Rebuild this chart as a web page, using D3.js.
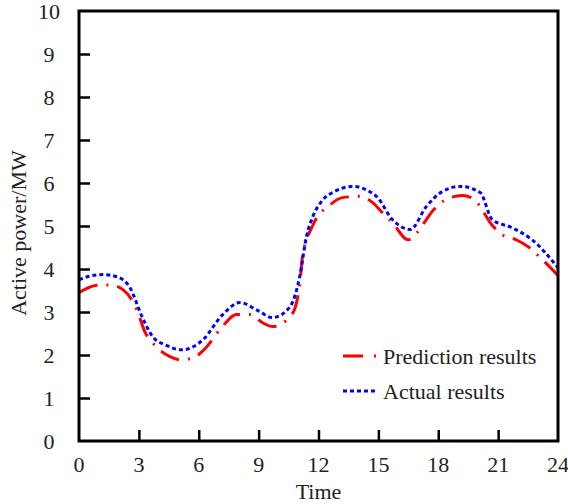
<!DOCTYPE html>
<html>
<head>
<meta charset="utf-8">
<script src="https://cdn.jsdelivr.net/npm/d3@7"></script>
<style>
    body { margin: 0; background: #fff; }
    svg text { font-family: "Liberation Serif", "Times New Roman", serif; fill: #222; }
</style>
</head>
<body>
<div id="chart"></div>
<script>
// values
const actualHours = [0, 0.5, 1.2, 2, 2.55, 3.16, 3.7, 4.4, 5.15, 6.2, 7.2, 8.07, 8.9, 9.7, 10.57, 11.07, 11.4, 11.7, 12.2, 12.8, 13.7, 14.9, 15.7, 16.6, 17.4, 18.2, 19.1, 20.1, 20.7, 21.7, 22.7, 24];
const actualValues = [3.75, 3.83, 3.87, 3.8, 3.57, 2.89, 2.42, 2.22, 2.12, 2.35, 2.94, 3.22, 3.05, 2.87, 3.12, 3.85, 4.76, 5.2, 5.6, 5.8, 5.92, 5.69, 5.15, 4.92, 5.45, 5.8, 5.92, 5.78, 5.15, 4.96, 4.68, 4.03];

const predHours = [0, 0.9, 1.55, 2.2, 2.9, 3.3, 3.7, 4.56, 5.06, 5.7, 6.3, 7.06, 7.9, 8.57, 9.2, 9.7, 10.57, 10.9, 11.07, 11.2, 11.7, 12.6, 13.2, 14.1, 14.7, 15.2, 15.7, 16.5, 17.3, 17.7, 18.4, 19.2, 19.8, 20.2, 20.6, 21.2, 21.9, 22.5, 23.1, 24];
const predValues = [3.45, 3.62, 3.63, 3.52, 3.05, 2.54, 2.28, 1.96, 1.89, 1.93, 2.14, 2.59, 2.94, 2.94, 2.75, 2.66, 2.89, 3.22, 3.68, 4.3, 5.0, 5.5, 5.66, 5.69, 5.55, 5.31, 5.08, 4.68, 5.08, 5.34, 5.62, 5.71, 5.62, 5.38, 5.08, 4.8, 4.68, 4.52, 4.27, 3.85];

const xTicks = [0, 3, 6, 9, 12, 15, 18, 21, 24];
const yTicks = [0, 1, 2, 3, 4, 5, 6, 7, 8, 9, 10];

const seriesNames = ['Prediction results', 'Actual results'];

const WIDTH = 568, HEIGHT = 504;
const _MARGIN = { top: 11, right: 10, bottom: 63, left: 79 };
const FONT = 22;

let svg = d3.select('#chart').append('svg')
    .attr('width', WIDTH)
    .attr('height', HEIGHT);

let plotW = WIDTH - _MARGIN.left - _MARGIN.right;
let plotH = HEIGHT - _MARGIN.top - _MARGIN.bottom;

let x = d3.scaleLinear().domain([0, 24]).range([0, plotW]);
let y = d3.scaleLinear().domain([0, 10]).range([plotH, 0]);

let g = svg.append('g')
    .attr('transform', 'translate(' + _MARGIN.left + ',' + _MARGIN.top + ')');

// curves
let line = d3.line()
    .x(d => x(d[0]))
    .y(d => y(d[1]))
    .curve(d3.curveMonotoneX);

g.append('path')
    .datum(d3.zip(predHours, predValues))
    .attr('fill', 'none')
    .attr('stroke', '#ff0000')
    .attr('stroke-width', 3)
    .attr('stroke-dasharray', '20,9,2,9')
    .attr('d', line);

g.append('path')
    .datum(d3.zip(actualHours, actualValues))
    .attr('fill', 'none')
    .attr('stroke', '#0000ff')
    .attr('stroke-width', 3)
    .attr('stroke-dasharray', '4,3')
    .attr('d', line);

// frame
g.append('rect')
    .attr('width', plotW)
    .attr('height', plotH)
    .attr('fill', 'none')
    .attr('stroke', '#000')
    .attr('stroke-width', 3);

// axes with inward ticks
let xAxis = d3.axisTop(x)
    .tickValues(xTicks.slice(1, -1))
    .tickSize(11)
    .tickFormat('');
g.append('g')
    .attr('transform', 'translate(0,' + plotH + ')')
    .call(xAxis)
    .call(s => s.select('.domain').remove())
    .selectAll('line').attr('stroke', '#000').attr('stroke-width', 2.5);

let yAxis = d3.axisRight(y)
    .tickValues(yTicks.slice(1, -1))
    .tickSize(11)
    .tickFormat('');
g.append('g')
    .call(yAxis)
    .call(s => s.select('.domain').remove())
    .selectAll('line').attr('stroke', '#000').attr('stroke-width', 2.5);

// tick labels
g.selectAll('.xlab')
    .data(xTicks)
    .enter().append('text')
    .attr('class', 'xlab')
    .attr('x', d => x(d))
    .attr('y', plotH + 31)
    .attr('text-anchor', 'middle')
    .style('font-size', FONT + 'px')
    .text(d => d);

g.selectAll('.ylab')
    .data(yTicks)
    .enter().append('text')
    .attr('class', 'ylab')
    .attr('x', -30)
    .attr('y', d => y(d))
    .attr('dy', '0.35em')
    .attr('text-anchor', 'middle')
    .style('font-size', FONT + 'px')
    .text(d => d);

// axis titles
svg.append('text')
    .attr('x', _MARGIN.left + x(12))
    .attr('y', 499)
    .attr('text-anchor', 'middle')
    .style('font-size', FONT + 'px')
    .text('Time');

svg.append('text')
    .attr('transform', 'translate(26,' + (_MARGIN.top + plotH / 2 + 7) + ') rotate(-90)')
    .attr('text-anchor', 'middle')
    .style('font-size', FONT + 'px')
    .text('Active power/MW');

// legend
let legend = svg.append('g');
let legendRows = [
    { name: seriesNames[0], color: '#ff0000', dash: '20,11,2,9', y: 356 },
    { name: seriesNames[1], color: '#0000ff', dash: '4,3', y: 391 }
];
legendRows.forEach(r => {
    legend.append('line')
        .attr('x1', 343).attr('x2', 378)
        .attr('y1', r.y).attr('y2', r.y)
        .attr('stroke', r.color)
        .attr('stroke-width', 3)
        .attr('stroke-dasharray', r.dash);
    legend.append('text')
        .attr('x', 383)
        .attr('y', r.y)
        .attr('dy', '0.35em')
        .style('font-size', FONT + 'px')
        .text(r.name);
});
</script>
</body>
</html>
